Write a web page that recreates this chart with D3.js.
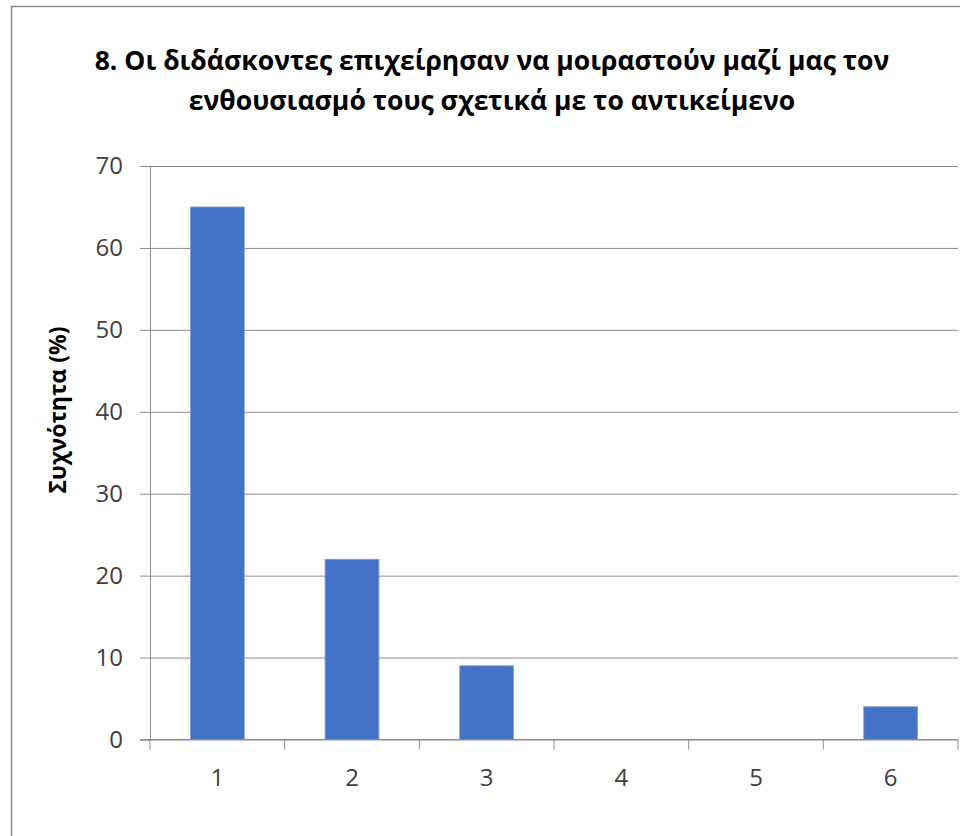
<!DOCTYPE html>
<html>
<head>
<meta charset="utf-8">
<script src="https://cdn.jsdelivr.net/npm/d3@7/dist/d3.min.js"></script>
<style>
  html, body { margin: 0; padding: 0; background: #fff; }
  svg { display: block; }
</style>
</head>
<body>
<div id="chart"></div>
<script>
// Chart data
const categories = ["1", "2", "3", "4", "5", "6"];
const values = [65, 22, 9, 0, 0, 4];
const yTicks = [0, 10, 20, 30, 40, 50, 60, 70];
const titleLines = [
  "8. Οι διδάσκοντες επιχείρησαν να μοιραστούν μαζί μας τον",
  "ενθουσιασμό τους σχετικά με το αντικείμενο",
];
const yLabel = "Συχνότητα (%)";

const width = 960;
const height = 836;
const margin = { top: 166, right: 2, bottom: 96.5, left: 150 };

const svg = d3
  .select("#chart")
  .append("svg")
  .attr("width", width)
  .attr("height", height)
  .attr("viewBox", [0, 0, width, height]);

// Outer chart border (cut off at right and bottom)
svg
  .append("path")
  .attr("d", `M11.5,${height + 2}V6.5H${width + 2}`)
  .attr("fill", "none")
  .attr("stroke", "#8c8c8c")
  .attr("stroke-width", 1.5);

// Scales
const x = d3
  .scaleBand()
  .domain(categories)
  .range([margin.left, width - margin.right])
  .paddingInner(0.6)
  .paddingOuter(0.3);

const xBand = d3
  .scaleBand()
  .domain(categories)
  .range([margin.left, width - margin.right]);

const y = d3
  .scaleLinear()
  .domain([0, 70])
  .range([height - margin.bottom, margin.top]);

// Gridlines + y ticks
const yAxis = svg
  .append("g")
  .attr("transform", `translate(${margin.left},0)`)
  .call(
    d3
      .axisLeft(y)
      .tickValues(yTicks)
      .tickSize(10)
      .tickPadding(17),
  );

yAxis.select(".domain").attr("stroke", "#8c8c8c");
yAxis.selectAll(".tick line").attr("stroke", "#8c8c8c");
yAxis
  .selectAll(".tick")
  .append("line")
  .attr("x1", 0)
  .attr("x2", width - margin.right - margin.left)
  .attr("stroke", "#8c8c8c");
yAxis
  .selectAll(".tick text")
  .attr("font-family", "'Open Sans', sans-serif")
  .attr("font-size", 24)
  .attr("fill", "#404040");

// Bars
svg
  .append("g")
  .selectAll("rect")
  .data(values)
  .join("rect")
  .attr("x", (d, i) => x(categories[i]))
  .attr("y", (d) => y(d))
  .attr("width", x.bandwidth())
  .attr("height", (d) => y(0) - y(d))
  .attr("fill", "#4472c4")
  .attr("stroke", (d) => (d > 0 ? "#7f9fd8" : "none"))
  .attr("stroke-width", 0.8);

// X axis
const xAxis = svg
  .append("g")
  .attr("transform", `translate(0,${y(0)})`);

xAxis
  .append("line")
  .attr("x1", margin.left - 10)
  .attr("x2", width - margin.right)
  .attr("stroke", "#8c8c8c");

const boundaries = categories.map((c) => xBand(c)).concat([width - margin.right]);
xAxis
  .selectAll(".xtick")
  .data(boundaries)
  .join("line")
  .attr("class", "xtick")
  .attr("x1", (d) => d)
  .attr("x2", (d) => d)
  .attr("y1", 0)
  .attr("y2", 10)
  .attr("stroke", "#8c8c8c");

xAxis
  .selectAll(".xlabel")
  .data(categories)
  .join("text")
  .attr("class", "xlabel")
  .attr("x", (d) => xBand(d) + xBand.bandwidth() / 2)
  .attr("y", 38)
  .attr("dy", "0.35em")
  .attr("text-anchor", "middle")
  .attr("font-family", "'Open Sans', sans-serif")
  .attr("font-size", 24)
  .attr("fill", "#404040")
  .text((d) => d);

// Y axis title
svg
  .append("text")
  .attr("transform", "translate(58,410) rotate(-90)")
  .attr("text-anchor", "middle")
  .attr("dy", "0.35em")
  .attr("font-family", "'Open Sans', sans-serif")
  .attr("font-weight", "bold")
  .attr("font-size", 23)
  .attr("fill", "#000")
  .text(yLabel);

// Title
const title = svg
  .append("g")
  .selectAll("text")
  .data(titleLines)
  .join("text")
  .attr("x", 492)
  .attr("y", (d, i) => 61 + i * 40)
  .attr("dy", "0.35em")
  .attr("text-anchor", "middle")
  .attr("font-family", "'Open Sans', sans-serif")
  .attr("font-weight", "bold")
  .attr("font-size", 24)
  .attr("fill", "#000")
  .text((d) => d);

// Scale title to the width seen in the reference
const targetWidth = 795;
const w0 = title.node().getComputedTextLength();
title.attr("font-size", (24 * targetWidth) / w0);
</script>
</body>
</html>
